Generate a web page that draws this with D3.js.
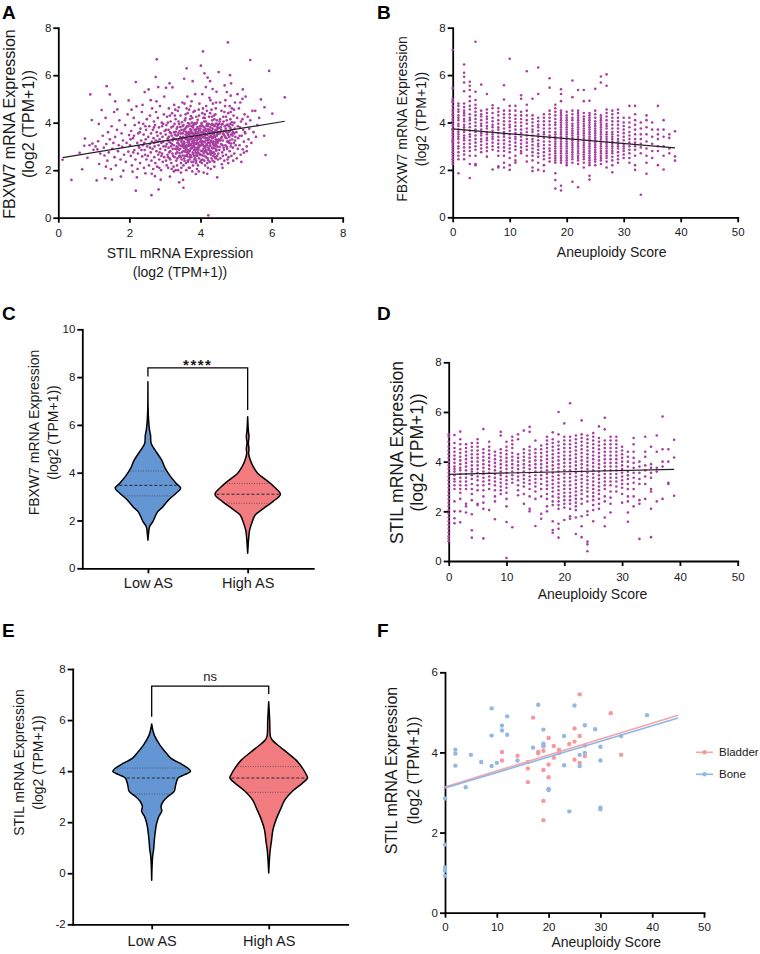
<!DOCTYPE html>
<html>
<head>
<meta charset="utf-8">
<script src="https://cdn.jsdelivr.net/npm/d3@7"></script>
<style>
  body { margin: 0; background: #fff; }
  svg { font-family: "Liberation Sans", Arial, sans-serif; }
  .axis path, .axis line { stroke: #000; stroke-width: 1.8; }
  .axis text { font-size: 11.5px; fill: #1a1a1a; font-family: "Liberation Sans", Arial, sans-serif; }
  .axis.cat text { font-size: 14.5px; }
  .title { font-size: 14px; fill: #1a1a1a; }
  .letter { font-size: 19px; font-weight: bold; fill: #000; }
</style>
</head>
<body>
<svg id="fig" width="760" height="954"></svg>
<script>
// ---------- data ----------
const PURPLE = '#a83fa0'

// A: STIL (x) vs FBXW7 (y), log2(TPM+1)
const stilFbxw7 = [
  [0.12, 2.44], [0.37, 1.59], [0.67, 2.04], [0.75, 3.33], [0.73, 3.03], [0.88, 3.05], [0.9, 5.19], [0.94, 4.11], [0.82, 2.52], [0.96, 3.12], [0.99, 2.86], [0.6, 2.73],
  [1.08, 1.57], [1.15, 2.26], [1.34, 2.15], [1.32, 1.66], [1.51, 1.6], [1.22, 4.53], [1.36, 5.54], [1.45, 5.19], [1.6, 4.9], [1.66, 4.56], [1.76, 1.73], [1.98, 4.94], [1.05, 3.0], [1.1, 2.88], [1.12, 3.22], [1.18, 2.7], [1.25, 3.45], [1.28, 2.95], [1.3, 2.62], [1.35, 3.1], [1.38, 2.4], [1.4, 3.6], [1.42, 2.75], [1.45, 3.3], [1.48, 2.05], [1.5, 3.85], [1.52, 2.9], [1.55, 3.15], [1.58, 2.55], [1.6, 3.4], [1.62, 2.2], [1.65, 3.7], [1.68, 2.8], [1.7, 3.05], [1.72, 4.1], [1.75, 2.45], [1.78, 3.55], [1.8, 2.98], [1.82, 3.25], [1.85, 2.65], [1.88, 3.9], [1.9, 2.35], [1.92, 3.15], [1.95, 4.35], [1.97, 2.78], [1.99, 3.48], [1.14, 3.95], [1.33, 4.2], [1.57, 4.45], [1.83, 1.98],
  [2.02, 3.05], [2.04, 2.6], [2.05, 3.65], [2.07, 2.2], [2.09, 1.94], [2.1, 3.35], [2.12, 4.2], [2.14, 2.85], [2.15, 3.9], [2.17, 2.45], [2.18, 1.14], [2.18, 5.71], [2.2, 4.69], [2.21, 1.7], [2.22, 3.15], [2.24, 2.7], [2.25, 3.55], [2.27, 4.0], [2.28, 2.95], [2.3, 2.3], [2.31, 3.75], [2.33, 3.25], [2.35, 4.45], [2.36, 2.58], [2.38, 3.05], [2.4, 3.5], [2.41, 2.1], [2.43, 5.29], [2.43, 2.85], [2.45, 1.87], [2.45, 3.85], [2.46, 3.3], [2.48, 2.45], [2.49, 4.15], [2.5, 3.0], [2.06, 4.55], [2.13, 3.45], [2.23, 2.05], [2.29, 3.6], [2.37, 4.75], [2.44, 2.65], [2.47, 3.7], [2.03, 3.3], [2.11, 2.75], [2.26, 3.0], [2.34, 2.85], [2.39, 3.95], [2.42, 3.15],
  [2.52, 2.6], [2.53, 3.4], [2.54, 5.4], [2.55, 2.2], [2.56, 3.85], [2.57, 3.1], [2.58, 4.3], [2.6, 2.75], [2.61, 3.55], [2.62, 0.95], [2.62, 2.4], [2.63, 3.2], [2.64, 4.6], [2.65, 2.9], [2.66, 3.7], [2.67, 2.05], [2.68, 3.35], [2.69, 4.05], [2.7, 2.55], [2.71, 3.0], [2.72, 3.9], [2.73, 2.3], [2.74, 5.92], [2.74, 3.25], [2.75, 4.45], [2.76, 2.8], [2.77, 6.67], [2.77, 3.6], [2.78, 2.15], [2.79, 3.45], [2.8, 4.2], [2.81, 5.5], [2.81, 2.65], [2.82, 1.19], [2.82, 3.05], [2.83, 3.8], [2.84, 2.45], [2.85, 3.3], [2.86, 4.7], [2.87, 2.9], [2.88, 3.55], [2.89, 2.0], [2.9, 3.15], [2.91, 4.0], [2.92, 2.7], [2.93, 3.4], [2.94, 2.35], [2.95, 3.95], [2.96, 3.0], [2.97, 4.35], [2.98, 2.55], [2.99, 3.65], [2.58, 2.95], [2.63, 1.85], [2.69, 3.8], [2.72, 1.75], [2.76, 4.9], [2.8, 3.2], [2.84, 2.1], [2.9, 2.6], [2.95, 3.2], [2.98, 5.1], [2.6, 4.95], [2.7, 3.15], [2.85, 2.75], [2.92, 3.85], [2.88, 1.6],
  [3.01, 2.85], [3.02, 3.5], [3.03, 5.47], [3.03, 2.4], [3.04, 3.9], [3.05, 3.1], [3.06, 4.25], [3.07, 2.65], [3.08, 3.35], [3.09, 2.1], [3.1, 3.7], [3.1, 2.95], [3.11, 4.6], [3.12, 3.2], [3.13, 5.66], [3.13, 2.5], [3.14, 1.73], [3.14, 3.6], [3.15, 2.8], [3.16, 4.05], [3.17, 3.0], [3.18, 2.3], [3.19, 3.45], [3.2, 4.4], [3.21, 5.49], [3.21, 2.7], [3.22, 3.25], [3.23, 3.85], [3.24, 2.15], [3.25, 3.05], [3.26, 4.75], [3.27, 2.55], [3.28, 3.5], [3.29, 2.9], [3.3, 4.15], [3.31, 3.3], [3.32, 2.4], [3.33, 3.75], [3.34, 2.75], [3.35, 3.15], [3.36, 4.5], [3.37, 2.0], [3.38, 3.55], [3.39, 2.85], [3.4, 1.49], [3.4, 3.95], [3.41, 3.05], [3.42, 2.6], [3.43, 3.4], [3.44, 4.3], [3.45, 2.3], [3.46, 3.2], [3.47, 3.7], [3.48, 2.75], [3.49, 4.85], [3.5, 3.0], [3.02, 3.0], [3.05, 2.2], [3.08, 4.0], [3.11, 3.4], [3.15, 2.45], [3.18, 3.8], [3.2, 3.1], [3.23, 2.6], [3.26, 3.6], [3.28, 4.3], [3.3, 2.0], [3.33, 3.0], [3.35, 2.5], [3.38, 4.05], [3.4, 3.3], [3.43, 2.9], [3.45, 3.55], [3.47, 2.45], [3.49, 3.85], [3.07, 3.25], [3.12, 2.75], [3.17, 3.55], [3.22, 2.9], [3.27, 3.95], [3.32, 3.45], [3.36, 2.95], [3.41, 3.65], [3.46, 2.1], [3.48, 3.35], [3.03, 3.7], [3.09, 2.55], [3.16, 3.15], [3.24, 3.35], [3.31, 2.7], [3.37, 3.25], [3.44, 2.55], [3.49, 3.1], [3.14, 4.3], [3.29, 4.55], [3.39, 4.65], [3.19, 2.05], [3.34, 2.2], [3.45, 1.9], [3.25, 1.95],
  [3.51, 1.59], [3.52, 1.26], [3.51, 3.4], [3.52, 2.8], [3.53, 3.65], [3.54, 5.85], [3.54, 2.5], [3.55, 3.15], [3.56, 4.1], [3.57, 2.95], [3.58, 3.5], [3.59, 2.3], [3.6, 3.8], [3.61, 6.29], [3.61, 3.05], [3.62, 2.65], [3.63, 3.3], [3.64, 4.4], [3.65, 2.85], [3.66, 3.6], [3.67, 2.1], [3.68, 3.2], [3.69, 3.95], [3.7, 2.55], [3.71, 3.45], [3.72, 4.7], [3.72, 2.9], [3.73, 3.1], [3.74, 3.7], [3.75, 2.35], [3.76, 3.35], [3.77, 4.2], [3.78, 5.75], [3.78, 2.75], [3.79, 3.55], [3.8, 3.0], [3.81, 3.9], [3.82, 2.6], [3.83, 3.25], [3.84, 4.5], [3.85, 2.85], [3.86, 3.65], [3.87, 1.84], [3.87, 3.1], [3.88, 2.4], [3.89, 3.45], [3.9, 4.0], [3.91, 2.95], [3.92, 3.3], [3.93, 2.2], [3.94, 3.75], [3.95, 3.05], [3.96, 4.3], [3.97, 2.7], [3.98, 3.5], [3.99, 3.2], [3.52, 3.9], [3.54, 3.05], [3.56, 2.6], [3.58, 4.35], [3.6, 3.3], [3.62, 3.0], [3.64, 2.4], [3.66, 3.85], [3.68, 2.8], [3.7, 3.6], [3.72, 3.3], [3.74, 2.55], [3.76, 4.0], [3.78, 3.15], [3.8, 2.35], [3.82, 3.5], [3.84, 2.95], [3.86, 3.35], [3.88, 4.25], [3.9, 2.7], [3.92, 3.6], [3.94, 3.1], [3.96, 2.5], [3.98, 3.85], [3.53, 3.2], [3.55, 2.4], [3.57, 3.75], [3.59, 3.0], [3.61, 4.6], [3.63, 2.75], [3.65, 3.45], [3.67, 3.1], [3.69, 2.45], [3.71, 4.15], [3.73, 3.55], [3.75, 2.95], [3.77, 3.35], [3.79, 2.2], [3.81, 3.05], [3.83, 3.7], [3.85, 2.5], [3.87, 3.95], [3.89, 3.15], [3.91, 2.6], [3.93, 3.4], [3.95, 4.55], [3.97, 3.0], [3.99, 2.35], [3.55, 4.8], [3.63, 5.1], [3.7, 2.1], [3.75, 4.9], [3.8, 4.45], [3.85, 5.2], [3.9, 2.05], [3.95, 1.95], [3.6, 2.0], [3.68, 4.55], [3.77, 1.95], [3.88, 2.3], [3.97, 4.8], [3.52, 2.2], [3.66, 3.25], [3.74, 3.85], [3.82, 3.15], [3.9, 3.55], [3.58, 2.85], [3.71, 2.65], [3.86, 2.75], [3.94, 2.85], [3.62, 3.55], [3.79, 3.8],
  [4.01, 6.4], [4.01, 3.3], [4.02, 2.65], [4.03, 3.9], [4.04, 3.05], [4.05, 4.4], [4.06, 2.45], [4.07, 7.0], [4.07, 3.55], [4.08, 2.9], [4.09, 3.2], [4.1, 4.05], [4.11, 6.08], [4.11, 2.6], [4.12, 3.45], [4.13, 2.2], [4.14, 3.75], [4.15, 3.0], [4.16, 4.7], [4.17, 2.75], [4.18, 3.35], [4.19, 3.95], [4.2, 5.9], [4.2, 2.5], [4.21, 2.1], [4.21, 3.15], [4.22, 0.1], [4.22, 3.6], [4.23, 2.85], [4.24, 4.25], [4.25, 3.4], [4.26, 2.35], [4.27, 5.75], [4.27, 3.05], [4.28, 3.8], [4.29, 2.65], [4.3, 3.25], [4.31, 4.55], [4.32, 2.95], [4.33, 3.55], [4.34, 5.42], [4.34, 2.4], [4.35, 3.1], [4.36, 3.9], [4.37, 2.75], [4.38, 3.5], [4.39, 4.15], [4.4, 3.0], [4.41, 2.55], [4.42, 3.7], [4.43, 3.3], [4.44, 4.85], [4.45, 2.85], [4.46, 3.45], [4.47, 1.7], [4.47, 3.95], [4.48, 3.15], [4.49, 2.45], [4.5, 3.6], [4.02, 3.6], [4.04, 2.3], [4.06, 3.85], [4.08, 4.2], [4.1, 3.0], [4.12, 2.8], [4.14, 3.35], [4.16, 2.55], [4.18, 4.5], [4.2, 3.25], [4.22, 2.95], [4.24, 3.7], [4.26, 3.15], [4.28, 4.95], [4.3, 2.8], [4.32, 3.65], [4.34, 3.35], [4.36, 2.6], [4.38, 4.3], [4.4, 3.85], [4.42, 2.9], [4.44, 3.2], [4.46, 4.1], [4.48, 3.75], [4.5, 2.7], [4.03, 3.15], [4.05, 2.8], [4.07, 4.6], [4.09, 3.7], [4.11, 2.4], [4.13, 3.5], [4.15, 4.05], [4.17, 3.1], [4.19, 2.3], [4.21, 3.85], [4.23, 3.3], [4.25, 2.7], [4.27, 4.4], [4.29, 3.45], [4.31, 2.5], [4.33, 3.95], [4.35, 3.6], [4.37, 3.2], [4.39, 2.35], [4.41, 3.4], [4.43, 4.6], [4.45, 3.05], [4.47, 2.6], [4.49, 3.9], [4.05, 5.2], [4.15, 5.5], [4.25, 5.05], [4.35, 4.8], [4.45, 5.3], [4.09, 1.9], [4.19, 1.85], [4.29, 2.05], [4.39, 2.15], [4.12, 4.35], [4.32, 4.25], [4.42, 4.35], [4.06, 3.4], [4.16, 3.65], [4.26, 3.55], [4.36, 3.4], [4.46, 3.5],
  [4.51, 6.13], [4.52, 3.3], [4.53, 2.85], [4.54, 4.05], [4.55, 3.55], [4.56, 2.5], [4.57, 3.8], [4.58, 3.1], [4.59, 4.5], [4.6, 2.25], [4.6, 3.4], [4.61, 2.75], [4.62, 3.95], [4.63, 3.25], [4.64, 4.25], [4.65, 2.95], [4.66, 3.65], [4.67, 2.4], [4.68, 5.57], [4.68, 3.45], [4.69, 4.7], [4.7, 3.05], [4.71, 3.75], [4.72, 2.65], [4.73, 3.35], [4.74, 5.29], [4.74, 4.1], [4.75, 2.9], [4.76, 3.55], [4.77, 7.38], [4.77, 3.2], [4.78, 4.4], [4.79, 2.55], [4.8, 3.85], [4.81, 3.4], [4.82, 2.8], [4.83, 6.0], [4.83, 3.65], [4.84, 4.15], [4.85, 5.14], [4.85, 3.0], [4.86, 5.66], [4.86, 3.5], [4.87, 2.6], [4.88, 4.6], [4.89, 3.3], [4.9, 3.9], [4.91, 2.95], [4.92, 3.6], [4.93, 4.3], [4.94, 3.15], [4.95, 2.7], [4.96, 3.75], [4.97, 4.85], [4.98, 3.4], [4.99, 3.05], [4.55, 4.85], [4.62, 2.1], [4.7, 4.95], [4.78, 2.3], [4.85, 4.45], [4.92, 2.4], [4.58, 3.7], [4.65, 3.5], [4.72, 4.25], [4.8, 3.15], [4.88, 3.7], [4.95, 4.0], [4.53, 3.95], [4.63, 2.6], [4.73, 3.9], [4.82, 4.7], [4.9, 3.45], [4.97, 3.25], [4.56, 3.25], [4.67, 4.45], [4.76, 2.45], [4.84, 3.95], [4.94, 4.55],
  [5.01, 3.6], [5.03, 4.2], [5.05, 2.9], [5.06, 3.35], [5.08, 4.6], [5.1, 3.05], [5.11, 3.8], [5.13, 2.65], [5.14, 4.05], [5.16, 3.45], [5.18, 5.0], [5.19, 5.4], [5.19, 2.88], [5.2, 3.7], [5.22, 2.74], [5.22, 3.2], [5.24, 4.35], [5.26, 3.55], [5.28, 3.95], [5.3, 2.8], [5.33, 4.25], [5.35, 3.3], [5.37, 3.75], [5.4, 6.64], [5.4, 4.1], [5.43, 3.15], [5.46, 4.5], [5.49, 3.6], [5.54, 4.5], [5.56, 3.4], [5.6, 3.9], [5.65, 4.2], [5.7, 4.98], [5.79, 3.45], [5.8, 4.65], [5.83, 2.64], [5.93, 6.18], [6.02, 4.38], [6.37, 5.07], [5.04, 5.2], [5.12, 4.85], [5.27, 5.1], [5.02, 2.5], [5.15, 2.35], [5.3, 3.0],
  [3.31, 3.62], [3.33, 2.88], [3.36, 3.48], [3.38, 3.12], [3.41, 2.72], [3.43, 3.82], [3.45, 3.02], [3.47, 3.28], [3.5, 2.62], [3.5, 3.55], [3.52, 3.08], [3.53, 2.95], [3.55, 3.72], [3.56, 3.35], [3.57, 2.78], [3.59, 3.62], [3.6, 2.92], [3.61, 3.42], [3.62, 3.85], [3.63, 2.58], [3.64, 3.18], [3.65, 3.98], [3.66, 2.72], [3.67, 3.52], [3.68, 3.02], [3.69, 3.32], [3.7, 2.82], [3.71, 3.72], [3.72, 2.62], [3.73, 3.42], [3.74, 3.05], [3.75, 3.62], [3.76, 2.92], [3.77, 3.22], [3.78, 3.88], [3.79, 2.68], [3.8, 3.45], [3.81, 3.28], [3.82, 2.85], [3.83, 3.98], [3.84, 3.12], [3.85, 3.55], [3.86, 2.62], [3.87, 3.38], [3.88, 3.72], [3.89, 2.88], [3.9, 3.25], [3.91, 3.82], [3.92, 2.75], [3.93, 3.15], [3.94, 3.58], [3.95, 2.95], [3.96, 3.42], [3.97, 3.68], [3.98, 2.65], [3.99, 3.35], [4.0, 3.05], [4.0, 3.75], [4.01, 2.82], [4.02, 3.45], [4.03, 3.98], [4.04, 3.22], [4.05, 2.62], [4.06, 3.62], [4.07, 3.08], [4.08, 3.38], [4.09, 2.72], [4.1, 3.82], [4.11, 3.18], [4.12, 3.55], [4.13, 2.95], [4.14, 3.65], [4.15, 3.25], [4.16, 2.85], [4.17, 3.88], [4.18, 3.05], [4.19, 3.48], [4.2, 2.68], [4.21, 3.72], [4.22, 3.28], [4.23, 3.95], [4.24, 2.88], [4.25, 3.58], [4.26, 3.02], [4.27, 3.68], [4.28, 2.78], [4.29, 3.22], [4.3, 3.92], [4.31, 3.38], [4.32, 2.72], [4.33, 3.18], [4.34, 3.75], [4.35, 2.92], [4.36, 3.55], [4.37, 3.88], [4.38, 3.05], [4.39, 3.42], [4.4, 2.68], [4.41, 3.62], [4.42, 3.12], [4.43, 3.95], [4.44, 2.82], [4.45, 3.68], [4.46, 3.28], [4.47, 3.82], [4.48, 2.98], [4.49, 3.52], [4.5, 3.22], [4.52, 3.78], [4.54, 2.98], [4.56, 3.62], [4.58, 3.35], [4.6, 3.92], [4.62, 3.05], [4.64, 3.55], [4.66, 2.85], [4.68, 3.85], [4.7, 3.38], [4.72, 3.62], [4.74, 2.98], [4.76, 3.92], [4.78, 3.48], [4.8, 3.62], [4.82, 3.25], [4.84, 3.78], [4.86, 3.12], [4.88, 4.02], [4.9, 3.55], [3.35, 3.82], [3.4, 2.58], [3.48, 4.02], [3.58, 4.18], [3.65, 2.35], [3.73, 4.28], [3.83, 2.45], [3.92, 4.12], [4.02, 2.42], [4.12, 4.2], [4.22, 2.42], [4.33, 4.1], [4.43, 2.5], [4.55, 4.15], [4.65, 4.05], [4.75, 3.2], [4.95, 3.55], [5.05, 3.85], [5.1, 3.45], [5.18, 4.15], [5.25, 3.6]
]
const fitA = [[0.12, 2.53], [6.37, 4.06]]

// B: FBXW7 by aneuploidy score; index = score 0..39
const fbxw7ByScore = [
  [7.06, 5.45, 5.0, 4.9, 4.85, 4.7, 4.55, 4.45, 4.35, 4.25, 4.15, 4.05, 3.95, 3.85, 3.75, 3.7, 3.65, 3.55, 3.45, 3.35, 3.25, 3.2, 3.15, 3.05, 2.95, 2.85, 2.75, 2.65, 2.55, 2.45, 2.35, 2.25],
  [4.8, 4.7, 4.55, 4.45, 4.3, 4.2, 4.1, 3.95, 3.85, 3.7, 3.6, 3.5, 3.4, 3.3, 3.15, 3.0, 2.9, 2.75, 2.6, 2.45, 1.86],
  [6.45, 6.1, 5.93, 5.69, 5.32, 4.8, 4.65, 4.5, 4.4, 4.3, 4.15, 4.05, 3.9, 3.8, 3.7, 3.6, 3.45, 3.35, 3.25, 3.1, 2.95, 2.8, 2.65, 2.45],
  [5.72, 5.55, 5.37, 5.1, 4.9, 4.7, 4.55, 4.35, 4.2, 4.1, 3.95, 3.8, 3.65, 3.5, 3.4, 3.25, 3.1, 2.95, 2.8, 2.6, 2.25, 1.66],
  [7.41, 5.3, 4.95, 4.75, 4.6, 4.45, 4.3, 4.15, 4.0, 3.85, 3.7, 3.6, 3.45, 3.3, 3.15, 3.0, 2.85, 2.6, 2.25, 2.2],
  [5.6, 4.5, 4.35, 4.25, 4.1, 3.95, 3.85, 3.7, 3.55, 3.45, 3.3, 3.2, 3.05, 2.9, 2.75],
  [5.2, 4.55, 4.4, 4.25, 4.15, 4.0, 3.85, 3.75, 3.6, 3.5, 3.35, 3.25, 3.1, 2.95, 2.8, 2.56],
  [4.73, 4.6, 4.4, 4.2, 4.05, 3.9, 3.8, 3.65, 3.5, 3.4, 3.3, 3.15, 3.0, 2.85, 2.02],
  [4.6, 4.45, 4.3, 4.1, 3.95, 3.8, 3.7, 3.55, 3.4, 3.25, 3.1, 2.95, 2.8, 2.6, 2.15, 2.1],
  [5.57, 4.97, 4.5, 4.35, 4.2, 4.05, 3.9, 3.75, 3.6, 3.5, 3.4, 3.25, 3.1, 2.95, 2.8, 2.6, 2.3, 2.1],
  [6.69, 4.7, 4.5, 4.35, 4.2, 4.05, 3.9, 3.8, 3.65, 3.5, 3.35, 3.2, 3.05, 2.9, 2.75, 2.5, 2.2, 2.0],
  [4.7, 4.5, 4.3, 4.15, 4.0, 3.85, 3.7, 3.55, 3.4, 3.3, 3.15, 3.0, 2.85, 2.6, 2.4, 2.3],
  [5.15, 5.0, 4.45, 4.3, 4.15, 4.0, 3.85, 3.7, 3.55, 3.4, 3.25, 3.1, 2.95, 2.8, 2.7],
  [6.16, 4.75, 4.5, 4.3, 4.1, 3.95, 3.75, 3.6, 3.45, 3.3, 3.15, 3.0, 2.85, 2.6, 2.35],
  [5.0, 4.3, 4.15, 4.0, 3.85, 3.7, 3.6, 3.45, 3.3, 3.2, 3.05, 2.9, 2.75, 2.6, 2.4, 2.1, 1.95],
  [6.32, 5.2, 4.2, 4.05, 3.9, 3.8, 3.65, 3.5, 3.4, 3.25, 3.1, 3.0, 2.85, 2.7, 2.55, 2.3, 2.0],
  [4.35, 4.2, 4.05, 3.9, 3.75, 3.6, 3.5, 3.35, 3.2, 3.05, 2.9, 2.75, 2.6, 2.45, 2.2, 1.95],
  [5.87, 5.47, 4.5, 4.35, 4.2, 4.05, 3.9, 3.75, 3.6, 3.45, 3.35, 3.2, 3.05, 2.9, 2.8, 2.65, 2.5, 2.35],
  [4.75, 4.6, 4.45, 4.3, 4.15, 4.0, 3.9, 3.75, 3.6, 3.5, 3.4, 3.3, 3.2, 3.1, 3.0, 2.9, 2.8, 2.7, 2.6, 2.5, 2.4, 2.3, 1.86, 1.57, 1.21],
  [5.4, 5.2, 4.9, 4.5, 4.4, 4.3, 4.2, 4.1, 4.0, 3.9, 3.8, 3.7, 3.6, 3.5, 3.4, 3.3, 3.2, 3.1, 3.0, 2.9, 2.8, 2.7, 2.6, 2.5, 2.4, 2.3, 1.33, 1.13],
  [4.45, 4.3, 4.2, 4.1, 4.0, 3.9, 3.8, 3.7, 3.6, 3.5, 3.4, 3.3, 3.2, 3.1, 3.0, 2.9, 2.8, 2.7, 2.6, 2.5, 2.4, 2.3, 2.2],
  [5.77, 5.07, 4.5, 4.35, 4.2, 4.1, 3.95, 3.85, 3.75, 3.65, 3.55, 3.45, 3.35, 3.25, 3.15, 3.05, 2.95, 2.85, 2.75, 2.65, 2.55, 2.45, 2.3, 1.5],
  [5.37, 4.5, 4.4, 4.3, 4.2, 4.1, 4.0, 3.9, 3.8, 3.7, 3.6, 3.5, 3.4, 3.3, 3.2, 3.1, 3.0, 2.9, 2.8, 2.7, 2.6, 2.5, 2.4, 2.25, 1.27],
  [5.37, 4.9, 4.4, 4.25, 4.15, 4.05, 3.95, 3.85, 3.75, 3.65, 3.55, 3.45, 3.35, 3.25, 3.15, 3.05, 2.95, 2.85, 2.75, 2.65, 2.55, 2.45, 2.3, 2.1],
  [4.92, 4.4, 4.3, 4.2, 4.1, 4.0, 3.9, 3.8, 3.7, 3.6, 3.5, 3.4, 3.3, 3.2, 3.1, 3.0, 2.9, 2.8, 2.7, 2.6, 2.5, 2.4, 2.3, 2.2, 1.75, 1.59],
  [5.42, 4.5, 4.35, 4.2, 4.05, 3.95, 3.85, 3.75, 3.65, 3.55, 3.45, 3.35, 3.25, 3.15, 3.05, 2.95, 2.85, 2.75, 2.65, 2.55, 2.45, 2.35, 2.2],
  [5.94, 5.69, 4.3, 4.2, 4.1, 4.0, 3.9, 3.8, 3.7, 3.6, 3.5, 3.4, 3.3, 3.2, 3.1, 3.0, 2.9, 2.8, 2.7, 2.6, 2.5, 2.4, 2.25],
  [6.03, 5.55, 4.55, 4.4, 4.25, 4.1, 3.95, 3.85, 3.75, 3.6, 3.5, 3.4, 3.3, 3.2, 3.1, 3.0, 2.9, 2.8, 2.7, 2.6, 2.5, 2.35, 2.1],
  [4.5, 4.35, 4.2, 4.05, 3.9, 3.75, 3.6, 3.5, 3.4, 3.3, 3.2, 3.1, 3.0, 2.9, 2.8, 2.7, 2.55, 2.4, 2.2, 1.9],
  [4.55, 4.4, 4.2, 4.05, 3.9, 3.75, 3.6, 3.45, 3.3, 3.2, 3.1, 3.0, 2.9, 2.75, 2.6, 2.45, 2.3],
  [4.2, 4.0, 3.85, 3.7, 3.55, 3.4, 3.25, 3.1, 3.0, 2.9, 2.8, 2.65, 2.5],
  [4.7, 4.2, 4.0, 3.8, 3.6, 3.45, 3.3, 3.15, 3.0, 2.85, 2.7, 2.5, 2.3],
  [4.7, 4.35, 4.1, 3.9, 3.7, 3.5, 3.3, 3.15, 3.0, 2.85, 2.6, 2.2, 2.0],
  [4.0, 3.75, 3.5, 3.3, 3.1, 2.95, 2.7, 0.95],
  [4.3, 4.1, 3.8, 3.5, 3.2, 2.9, 2.6, 2.3, 1.84],
  [4.0, 3.7, 3.4, 3.1, 2.8, 2.5],
  [4.7, 3.7, 3.5, 3.3, 3.0, 2.8, 2.2],
  [4.1, 3.7, 3.4, 3.0, 2.6, 2.02],
  [3.5, 3.35, 2.9, 2.7],
  [3.63, 2.57, 2.39]
]
const fitB = [[0, 3.73], [39, 2.93]]

// D: STIL by aneuploidy score; index = score 0..39
const stilByScore = [
  [5.1, 5.0, 4.8, 4.6, 4.45, 4.3, 4.15, 4.0, 3.85, 3.7, 3.55, 3.4, 3.25, 3.1, 2.95, 2.8, 2.65, 2.5, 2.35, 2.2, 2.05, 1.9, 1.75, 1.6, 1.45, 1.3, 1.15, 1.0, 0.9, 0.8],
  [5.07, 4.75, 4.55, 4.4, 4.25, 4.1, 3.95, 3.8, 3.7, 3.6, 3.45, 3.3, 3.2, 3.05, 2.9, 2.4, 2.0, 1.72, 1.52],
  [5.21, 4.9, 4.7, 4.5, 4.35, 4.2, 4.05, 3.9, 3.75, 3.65, 3.5, 3.35, 3.2, 3.05, 2.9, 2.75, 2.5, 2.0, 1.56],
  [4.7, 4.55, 4.4, 4.25, 4.1, 3.95, 3.8, 3.65, 3.5, 3.35, 3.2, 3.05, 2.9, 2.3, 2.2, 1.95],
  [4.75, 4.6, 4.45, 4.3, 4.15, 4.0, 3.85, 3.7, 3.6, 3.45, 3.3, 3.1, 2.9, 2.7, 2.45, 1.88, 1.24, 0.94],
  [4.9, 4.75, 4.6, 4.45, 4.3, 4.15, 4.0, 3.85, 3.7, 3.55, 3.4, 3.25, 3.05, 2.85, 2.3, 2.25],
  [5.31, 4.5, 4.35, 4.2, 4.05, 3.9, 3.75, 3.6, 3.5, 3.35, 3.2, 3.05, 2.85, 2.6, 2.35, 2.1, 0.91],
  [4.8, 4.6, 4.45, 4.3, 4.15, 4.0, 3.85, 3.7, 3.55, 3.4, 3.25, 3.1, 2.9, 2.05],
  [4.4, 4.25, 4.1, 3.95, 3.8, 3.65, 3.5, 3.35, 3.2, 3.05, 2.85, 2.6, 2.4, 1.68],
  [5.2, 5.05, 4.5, 4.35, 4.2, 4.05, 3.9, 3.75, 3.6, 3.45, 3.3, 3.15, 3.0, 2.85, 2.7],
  [4.8, 4.6, 4.45, 4.3, 4.15, 4.0, 3.85, 3.7, 3.55, 3.4, 3.25, 3.1, 2.95, 2.75, 2.5, 2.2, 1.57, 0.12],
  [5.0, 4.85, 4.7, 4.55, 4.35, 4.2, 4.05, 3.9, 3.75, 3.6, 3.45, 3.3, 3.15, 1.36],
  [5.1, 4.9, 4.3, 4.15, 4.0, 3.85, 3.7, 3.55, 3.4, 3.25, 3.05, 2.85, 2.65],
  [5.25, 4.5, 4.35, 4.2, 4.05, 3.9, 3.75, 3.6, 3.45, 3.3, 3.15, 3.0, 2.7, 2.3],
  [5.4, 5.2, 4.6, 4.45, 4.3, 4.15, 4.0, 3.85, 3.7, 3.55, 3.4, 3.25, 3.1, 2.9, 2.6, 2.1, 2.0],
  [4.85, 4.5, 4.35, 4.2, 4.05, 3.9, 3.75, 3.6, 3.45, 3.3, 3.15, 3.0, 2.8, 2.5, 1.41],
  [4.65, 4.5, 4.35, 4.2, 4.05, 3.9, 3.75, 3.6, 3.45, 3.3, 3.1, 2.9, 2.6, 1.9, 1.7],
  [5.0, 4.85, 4.7, 4.55, 4.4, 4.25, 4.1, 3.95, 3.8, 3.65, 3.5, 3.35, 3.2, 3.05, 2.9, 2.7, 2.5, 2.2, 2.0],
  [5.18, 4.9, 4.75, 4.6, 4.45, 4.3, 4.15, 4.0, 3.85, 3.7, 3.55, 3.4, 3.25, 3.1, 2.95, 2.8, 2.6, 2.4, 2.25, 1.6, 1.25, 1.14],
  [6.0, 5.1, 4.8, 4.65, 4.5, 4.35, 4.2, 4.05, 3.9, 3.75, 3.6, 3.45, 3.3, 3.15, 3.0, 2.85, 2.7, 2.55, 2.4, 2.25, 2.1, 1.5, 1.3, 0.94],
  [5.54, 5.0, 4.85, 4.7, 4.55, 4.4, 4.25, 4.1, 3.95, 3.8, 3.65, 3.5, 3.35, 3.2, 3.05, 2.9, 2.75, 2.6, 2.45, 2.3, 2.15, 1.65],
  [6.35, 5.0, 4.85, 4.7, 4.55, 4.4, 4.25, 4.1, 3.95, 3.8, 3.65, 3.5, 3.35, 3.2, 3.05, 2.9, 2.75, 2.6, 2.45, 2.3, 2.1, 1.8, 1.7],
  [5.05, 4.9, 4.75, 4.6, 4.45, 4.3, 4.15, 4.0, 3.85, 3.7, 3.55, 3.4, 3.25, 3.1, 2.95, 2.8, 2.65, 2.5, 2.35, 2.2, 2.05, 1.75, 1.09],
  [5.66, 5.1, 4.95, 4.8, 4.65, 4.5, 4.35, 4.2, 4.05, 3.9, 3.75, 3.6, 3.45, 3.3, 3.15, 3.0, 2.85, 2.7, 2.5, 2.3, 1.8, 1.4, 0.96],
  [5.05, 4.9, 4.75, 4.6, 4.45, 4.3, 4.15, 4.0, 3.85, 3.7, 3.55, 3.4, 3.25, 3.1, 2.95, 2.8, 2.6, 2.4, 2.0, 1.85, 0.78, 0.67, 0.39],
  [5.15, 5.0, 4.85, 4.7, 4.55, 4.4, 4.25, 4.1, 3.95, 3.8, 3.65, 3.5, 3.35, 3.2, 3.05, 2.9, 2.75, 2.6, 2.45, 2.25, 2.05, 1.6],
  [5.42, 4.95, 4.8, 4.65, 4.5, 4.35, 4.2, 4.05, 3.9, 3.75, 3.6, 3.45, 3.3, 3.15, 3.0, 2.85, 2.7, 2.5, 2.3, 2.1],
  [5.77, 5.3, 4.85, 4.7, 4.55, 4.4, 4.25, 4.1, 3.95, 3.8, 3.65, 3.5, 3.35, 3.2, 3.05, 2.9, 2.6, 2.4, 1.75, 1.4],
  [5.0, 4.85, 4.7, 4.55, 4.4, 4.25, 4.1, 3.95, 3.8, 3.65, 3.5, 3.35, 3.2, 3.05, 2.8, 2.55, 2.3, 1.95],
  [5.0, 4.85, 4.7, 4.55, 4.4, 4.25, 4.1, 3.95, 3.8, 3.65, 3.5, 3.35, 3.2, 3.0, 2.8],
  [4.6, 4.45, 4.3, 4.15, 4.0, 3.85, 3.7, 3.55, 3.4, 3.25, 3.1, 2.95, 2.7, 2.35],
  [4.4, 4.2, 4.0, 3.8, 3.6, 3.45, 3.3, 3.1, 2.9, 2.6, 2.4, 1.95, 1.58],
  [4.95, 4.7, 4.4, 4.15, 3.95, 3.75, 3.55, 3.35, 3.15, 2.9, 2.6, 2.2],
  [4.0, 3.8, 3.55, 3.3, 3.1, 2.45, 2.3, 0.89],
  [5.0, 4.4, 4.2, 3.85, 3.65, 3.4, 3.1, 2.5],
  [4.6, 3.9, 3.75, 3.55, 3.35, 2.9, 2.8, 2.1, 0.96],
  [5.05, 4.4, 3.75, 3.6, 2.4],
  [5.82, 4.5, 4.0, 3.8, 2.5],
  [4.5, 4.0, 3.15, 3.1],
  [4.88, 4.17, 2.63]
]
const fitD = [[0, 3.49], [39, 3.69]]

// C / E: violin outlines as [value, relative width], quartiles [q1, median, q3]
const groups = ['Low AS', 'High AS']
const violinFbxw7 = {
  'Low AS': [[7.81, 0], [6.72, 0.005], [6.2, 0.02], [5.78, 0.05], [5.57, 0.08], [5.22, 0.1], [4.88, 0.25], [4.53, 0.42], [4.18, 0.53], [3.9, 0.66], [3.56, 0.86], [3.35, 1.0], [3.14, 0.86], [2.86, 0.63], [2.58, 0.46], [2.37, 0.3], [2.16, 0.22], [1.95, 0.15], [1.74, 0.05], [1.47, 0.02], [1.18, 0]],
  'High AS': [[6.34, 0], [5.78, 0.02], [5.5, 0.04], [5.37, 0.03], [5.22, 0.02], [5.01, 0.04], [4.8, 0.03], [4.53, 0.08], [4.25, 0.17], [3.97, 0.31], [3.69, 0.57], [3.42, 0.8], [3.1, 1.0], [2.79, 0.77], [2.51, 0.49], [2.23, 0.23], [1.95, 0.14], [1.6, 0.06], [1.25, 0.03], [0.63, 0]]
}
const quartFbxw7 = { 'Low AS': [3.03, 3.47, 4.07], 'High AS': [2.72, 3.1, 3.55] }
const violinStil = {
  'Low AS': [[5.85, 0], [5.6, 0.03], [5.4, 0.07], [5.05, 0.2], [4.7, 0.38], [4.5, 0.5], [4.3, 0.74], [4.12, 0.93], [3.99, 1.0], [3.86, 0.85], [3.73, 0.68], [3.47, 0.62], [3.21, 0.58], [3.01, 0.42], [2.82, 0.3], [2.62, 0.24], [2.43, 0.26], [2.24, 0.19], [1.97, 0.13], [1.71, 0.1], [1.32, 0.07], [0.93, 0.05], [0.67, 0.025], [0.28, 0.01], [-0.27, 0]],
  'High AS': [[6.72, 0], [6.0, 0.025], [5.35, 0.045], [5.22, 0.09], [4.83, 0.39], [4.44, 0.7], [4.12, 0.87], [3.86, 0.97], [3.73, 1.0], [3.53, 0.87], [3.21, 0.61], [2.88, 0.42], [2.49, 0.3], [2.1, 0.19], [1.71, 0.11], [1.25, 0.07], [0.86, 0.035], [0.01, 0]]
}
const quartStil = { 'Low AS': [3.1, 3.73, 4.12], 'High AS': [3.17, 3.73, 4.18] }
const violinColors = { 'Low AS': '#6396d3', 'High AS': '#f27b80' }

// F: per-line STIL vs aneuploidy score
const bladder = [
  [11, 4.01], [11, 3.8], [14, 3.92], [16, 3.76], [16, 3.6], [16, 3.26], [17, 4.87], [18, 4.01], [18, 3.98], [19, 4.15], [19, 4.04], [19, 3.56], [19, 2.79], [19, 2.31],
  [20, 4.36], [20, 3.7], [20, 3.38], [21, 4.16], [21, 3.87], [22, 4.07], [22, 3.98], [24, 4.21], [25, 4.6], [25, 4.27], [25, 3.82], [26, 5.45], [26, 4.41], [26, 3.74],
  [27, 4.17], [27, 3.91], [32, 4.98], [34, 3.94]
]
const bone = [
  [0, 2.85], [0, 1.7], [0, 1.13], [0, 1.05], [0, 0.92], [2, 4.07], [2, 3.97], [2, 3.67], [4, 3.13], [5, 3.94], [7, 3.76], [9, 5.1], [9, 4.42], [9, 3.66], [10, 3.74],
  [11, 4.67], [11, 4.55], [12, 4.9], [12, 4.44], [14, 3.8], [17, 4.12], [18, 5.19], [19, 4.57], [19, 4.22], [19, 4.18], [20, 3.09], [20, 3.06], [23, 4.41], [23, 3.68],
  [24, 2.53], [25, 5.17], [26, 3.94], [26, 3.66], [27, 4.68], [27, 3.99], [29, 4.58], [30, 4.14], [30, 3.8], [30, 2.62], [30, 2.58], [34, 4.41], [39, 4.93]
]
const fitBladder = [[0, 3.14], [45, 4.93]]
const fitBone = [[0, 3.11], [45, 4.86]]
const seriesF = [
  { name: 'Bladder', dots: bladder, fit: fitBladder, dot: '#f4999d', line: '#f4a5a8' },
  { name: 'Bone', dots: bone, fit: fitBone, dot: '#93b8e6', line: '#90b6e6' }
]

const ticks0to8 = [0, 2, 4, 6, 8]
const ticksScore = [0, 10, 20, 30, 40, 50]

// ---------- drawing ----------
const svg = d3.select('#fig')
const plain = d => String(d)

function axes (x, y, xTicks, yTicks, xPad, cat) {
  const y0 = y.range()[0]
  const x0 = x.range()[0]
  const xa = d3.axisBottom(x).tickSize(5).tickPadding(xPad).tickSizeOuter(0)
  if (xTicks) xa.tickValues(xTicks).tickFormat(plain)
  svg.append('g')
    .attr('class', cat ? 'axis cat' : 'axis')
    .attr('transform', `translate(0, ${y0})`)
    .call(xa)
  svg.append('g')
    .attr('class', 'axis')
    .attr('transform', `translate(${x0}, 0)`)
    .call(d3.axisLeft(y).tickValues(yTicks).tickFormat(plain).tickSize(5).tickPadding(2).tickSizeOuter(0))
  svg.selectAll('.axis .domain').attr('stroke-linecap', 'square')
}

function yTitle (cy, bx, size, lines) {
  lines.forEach((t, i) => {
    svg.append('text')
      .attr('class', 'title')
      .attr('text-anchor', 'middle')
      .attr('transform', `translate(${bx[i]}, ${cy}) rotate(-90)`)
      .style('font-size', size + 'px')
      .text(t)
  })
}

function xTitle (cx, by, size, lines) {
  lines.forEach((t, i) => {
    svg.append('text')
      .attr('class', 'title')
      .attr('text-anchor', 'middle')
      .attr('x', cx)
      .attr('y', by[i])
      .style('font-size', size + 'px')
      .text(t)
  })
}

function letter (t, x, y) {
  svg.append('text').attr('class', 'letter').attr('x', x).attr('y', y).text(t)
}

function fitLine (x, y, pts, color, w) {
  svg.append('path')
    .datum(pts)
    .attr('fill', 'none')
    .attr('stroke', color)
    .attr('stroke-width', w)
    .attr('d', d3.line().x(d => x(d[0])).y(d => y(d[1])))
}

function dots (x, y, pts, color, r) {
  svg.append('g').selectAll('circle')
    .data(pts)
    .enter()
    .append('circle')
    .attr('cx', d => x(d[0]))
    .attr('cy', d => y(d[1]))
    .attr('r', r)
    .attr('fill', color)
}

function columnsToPoints (cols) {
  const out = []
  cols.forEach((c, i) => c.forEach(v => out.push([i, v])))
  return out
}

function violins (x, y, shapes, quarts, maxHalf) {
  const w = d3.scaleLinear().domain([0, 1]).range([0, maxHalf])
  groups.forEach(gname => {
    const cx = x(gname)
    const shape = shapes[gname]
    const area = d3.area()
      .y(d => y(d[0]))
      .x0(d => cx - w(d[1]))
      .x1(d => cx + w(d[1]))
      .curve(d3.curveCatmullRom)
    svg.append('path')
      .datum(shape)
      .attr('d', area)
      .attr('fill', violinColors[gname])
      .attr('stroke', '#000')
      .attr('stroke-width', 1.5)
      .attr('stroke-linejoin', 'round')
    const widthAt = d3.scaleLinear().domain(shape.map(d => d[0])).range(shape.map(d => d[1]))
    quarts[gname].forEach((q, i) => {
      const hw = w(widthAt(q)) - 1.5
      svg.append('line')
        .attr('x1', cx - hw).attr('x2', cx + hw)
        .attr('y1', y(q)).attr('y2', y(q))
        .attr('stroke', i === 1 ? '#1f2a38' : '#4a4a4a')
        .attr('stroke-width', i === 1 ? 1 : 0.8)
        .attr('stroke-dasharray', i === 1 ? '3,2' : '1,1.5')
    })
  })
}

function bracket (x, y, top, leftEnd, rightEnd, label, size, bold, labelY) {
  const xl = x(groups[0])
  const xr = x(groups[1])
  svg.append('path')
    .attr('fill', 'none')
    .attr('stroke', '#000')
    .attr('stroke-width', 1.3)
    .attr('d', `M${xl},${y(leftEnd)}V${y(top)}H${xr}V${y(rightEnd)}`)
  svg.append('text')
    .attr('x', (xl + xr) / 2)
    .attr('y', labelY)
    .attr('text-anchor', 'middle')
    .style('font-size', size + 'px')
    .style('font-weight', bold ? 'bold' : 'normal')
    .style('letter-spacing', bold ? '1.5px' : '0')
    .attr('fill', '#1a1a1a')
    .text(label)
}

// ---- A ----
const xA = d3.scaleLinear().domain([0, 8]).range([58.3, 342.7])
const yA = d3.scaleLinear().domain([0, 8]).range([217.7, 27.7])
axes(xA, yA, ticks0to8, ticks0to8, 6)
dots(xA, yA, stilFbxw7, PURPLE, 1.35)
fitLine(xA, yA, fitA, '#222', 1.2)
yTitle(124, [14.5, 34], 16, ['FBXW7 mRNA Expression', '(log2 (TPM+1))'])
xTitle(180, [258, 277], 14, ['STIL mRNA Expression', '(log2 (TPM+1))'])
letter('A', 2, 18.5)

// ---- B ----
const xB = d3.scaleLinear().domain([0, 50]).range([452.7, 737.7])
const yB = d3.scaleLinear().domain([0, 8]).range([217.3, 27.7])
axes(xB, yB, ticksScore, ticks0to8, 6)
dots(xB, yB, columnsToPoints(fbxw7ByScore), PURPLE, 1.3)
fitLine(xB, yB, fitB, '#222', 1.2)
yTitle(119, [407, 426], 14, ['FBXW7 mRNA Expression', '(log2 (TPM+1))'])
xTitle(611.7, [256.7], 14, ['Aneuploidy Score'])
letter('B', 377, 18.5)

// ---- C ----
const xC = d3.scalePoint().domain(groups).range([82.3, 313.3]).padding(0.658)
const yC = d3.scaleLinear().domain([0, 10]).range([568.3, 329.3])
axes(xC, yC, null, [0, 2, 4, 6, 8, 10], 4, true)
violins(xC, yC, violinFbxw7, quartFbxw7, 32.7)
bracket(xC, yC, 8.39, 8.02, 6.62, '****', 15, true, 369.5)
yTitle(432.5, [38.5, 58], 14, ['FBXW7 mRNA Expression', '(log2 (TPM+1))'])
letter('C', 2, 320)

// ---- D ----
const xD = d3.scaleLinear().domain([0, 50]).range([448.7, 737.7])
const yD = d3.scaleLinear().domain([0, 8]).range([561, 362.3])
axes(xD, yD, ticksScore, ticks0to8, 6.5)
dots(xD, yD, columnsToPoints(stilByScore), PURPLE, 1.3)
fitLine(xD, yD, fitD, '#222', 1.2)
yTitle(452.5, [403, 423], 17.5, ['STIL mRNA Expression', '(log2 (TPM+1))'])
xTitle(592.5, [599], 14, ['Aneuploidy Score'])
letter('D', 377, 320)

// ---- E ----
const xE = d3.scalePoint().domain(groups).range([72.7, 347.7]).padding(0.675)
const yE = d3.scaleLinear().domain([-2, 8]).range([924.3, 669])
axes(xE, yE, null, [-2, 0, 2, 4, 6, 8], 6, true)
violins(xE, yE, violinStil, quartStil, 38.8)
bracket(xE, yE, 7.33, 6.13, 7.02, 'ns', 13, false, 680.5)
yTitle(762.5, [23.5, 43], 14, ['STIL mRNA Expression', '(log2 (TPM+1))'])
letter('E', 2, 636.7)

// ---- F ----
const xF = d3.scaleLinear().domain([0, 50]).range([445, 704])
const yF = d3.scaleLinear().domain([0, 6]).range([912.7, 672.3])
axes(xF, yF, ticksScore, [0, 2, 4, 6], 5.5)
seriesF.forEach(s => dots(xF, yF, s.dots, s.dot, 2.2))
seriesF.forEach(s => fitLine(xF, yF, s.fit, s.line, 1.6))
yTitle(770.5, [397, 419], 16, ['STIL mRNA Expression', '(log2 (TPM+1))'])
xTitle(606.3, [947], 14, ['Aneuploidy Score'])
letter('F', 377, 636.7)

const legend = svg.append('g').attr('transform', 'translate(696, 752.3)')
seriesF.forEach((s, i) => {
  const g = legend.append('g').attr('transform', `translate(0, ${i * 22})`)
  g.append('line').attr('x1', 0).attr('x2', 17).attr('stroke', s.line).attr('stroke-width', 1.6)
  g.append('circle').attr('cx', 8.5).attr('r', 2.2).attr('fill', s.dot)
  g.append('text').attr('x', 23).attr('dy', '0.35em').style('font-size', '11.5px').attr('fill', '#1a1a1a').text(s.name)
})
</script>
</body>
</html>
